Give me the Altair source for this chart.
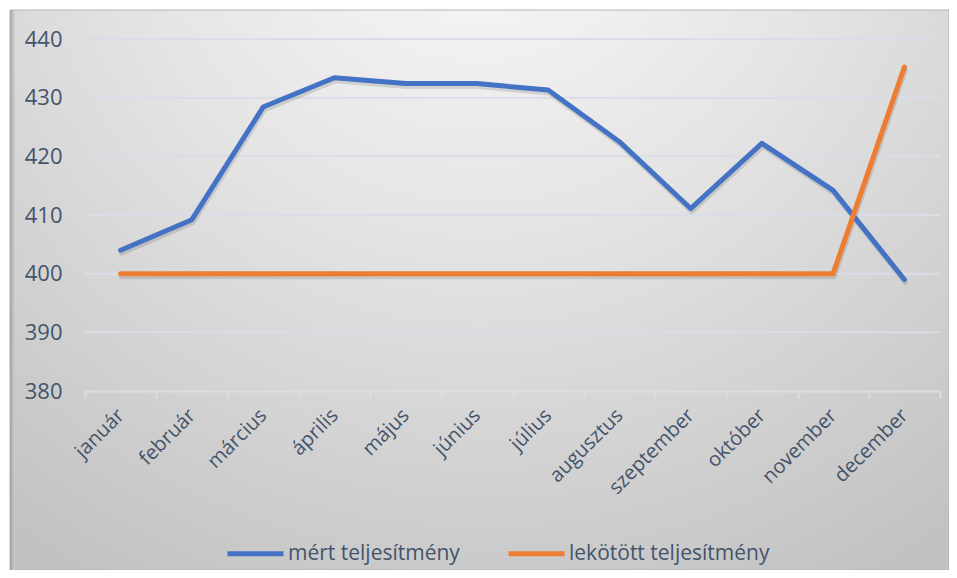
import altair as alt
import pandas as pd

months = ["január", "február", "március", "április", "május", "június",
          "július", "augusztus", "szeptember", "október", "november", "december"]
mert = [404.0, 409.2, 428.4, 433.4, 432.4, 432.4, 431.3, 422.5, 411.1, 422.2, 414.2, 399.0]
lekotott = [400, 400, 400, 400, 400, 400, 400, 400, 400, 400, 400, 435.2]
series_names = ["mért teljesítmény", "lekötött teljesítmény"]
series_colors = ["#4472C4", "#ED7D31"]
y_ticks = [380, 390, 400, 410, 420, 430, 440]

rows = []
for m, a, b in zip(months, mert, lekotott):
    rows.append({"honap": m, "sorozat": series_names[0], "ertek": a})
    rows.append({"honap": m, "sorozat": series_names[1], "ertek": b})
df = pd.DataFrame(rows)
grid_df = pd.DataFrame({"ertek": y_ticks[1:]})

FONT = "Open Sans"
TXT = "#44546A"

xenc = alt.X("honap:N", sort=months, title=None,
             scale=alt.Scale(type="band", paddingInner=0, paddingOuter=0),
             axis=alt.Axis(labelAngle=-45, labelAlign="right", labelBaseline="middle",
                           labelFontSize=20, labelFont=FONT, labelColor=TXT,
                           labelPadding=14, tickBand="extent", tickSize=7,
                           tickColor="#D9DEE6", tickWidth=2, domainColor="#D9DEE6",
                           domainWidth=2, grid=False, zindex=1))
yscale = alt.Scale(domain=[380, 440], nice=False, zero=False)
yaxis = alt.Axis(values=y_ticks, labelFontSize=22, labelFont=FONT,
                 labelColor=TXT, labelPadding=23, domain=False, ticks=False,
                 grid=False, zindex=1)
yenc = alt.Y("ertek:Q", scale=yscale, title=None, axis=yaxis)

bg = alt.Chart(pd.DataFrame({"a": [0]})).mark_rect(
    fill=alt.RadialGradient(
        gradient="radial", x1=0.5, y1=0.06, r1=0.0, x2=0.5, y2=0.06, r2=0.85,
        stops=[alt.GradientStop(offset=0, color="#fbfbfb"),
               alt.GradientStop(offset=0.45, color="#e4e4e4"),
               alt.GradientStop(offset=1, color="#c2c2c2")]),
    stroke="#b5b5b5", strokeWidth=1
).encode(x=alt.value(-75), x2=alt.value(864), y=alt.value(-29), y2=alt.value(531))

left_edge = alt.Chart(pd.DataFrame({"a": [0]})).mark_rect(
    fill=alt.LinearGradient(
        gradient="linear", x1=0, y1=0, x2=1, y2=0,
        stops=[alt.GradientStop(offset=0, color="#9a9a9a"),
               alt.GradientStop(offset=1, color="#d0d0d0")]), opacity=0.8
).encode(x=alt.value(-75), x2=alt.value(-70), y=alt.value(-29), y2=alt.value(531))

grid = alt.Chart(grid_df).mark_rule(color="#D9DEE6", strokeWidth=2).encode(
    y=alt.Y("ertek:Q", scale=yscale, title=None, axis=yaxis))

shadow = alt.Chart(df).mark_line(
    strokeWidth=5, color="#000000", opacity=0.12, xOffset=1, yOffset=3,
    strokeCap="round", strokeJoin="round"
).encode(x=xenc, y=yenc, detail="sorozat:N")

lines = alt.Chart(df).mark_line(strokeWidth=5, strokeCap="round", strokeJoin="round").encode(
    x=xenc, y=yenc,
    color=alt.Color("sorozat:N", sort=series_names,
                    scale=alt.Scale(domain=series_names, range=series_colors),
                    legend=alt.Legend(orient="none", legendX=140, legendY=484,
                                      direction="horizontal", title=None,
                                      symbolType="stroke", symbolSize=3136,
                                      symbolStrokeWidth=5, labelFontSize=21,
                                      labelFont=FONT, labelColor=TXT, labelOffset=2,
                                      labelLimit=400, columnPadding=38,
                                      symbolOpacity=1))
)

chart = alt.layer(bg, left_edge, grid, shadow, lines).properties(
    width=855, height=352,
    autosize=alt.AutoSizeParams(type="none"),
    padding={"left": 77, "top": 31, "right": 9, "bottom": 179},
    background="white"
).configure_view(stroke=None)

chart.save("out.html", embed_options={"renderer": "svg", "actions": False})
